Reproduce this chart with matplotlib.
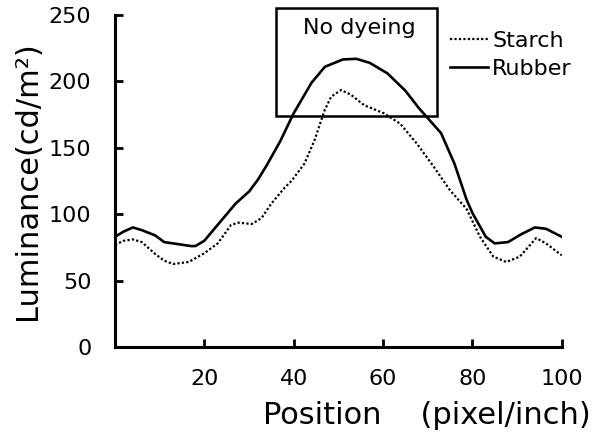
import matplotlib
matplotlib.use("Agg")
import matplotlib.pyplot as plt
from matplotlib.patches import Rectangle

# Data
rubber_x = [0, 2, 4, 6, 9, 11, 13, 15, 17, 18, 20, 23, 25, 27, 30, 32, 34, 37, 40,
            44, 47, 51, 54, 57, 61, 65, 68, 73, 76, 78.7, 80, 83, 85, 88, 91, 94, 96.5, 100]
rubber_y = [83, 87, 90, 88, 84, 79, 78, 77, 76, 76, 80, 92, 100, 108, 117, 126, 137, 155, 176,
            199, 211, 216.5, 217, 214, 206, 193, 180, 161, 138, 111, 101, 83, 78, 79, 85, 90, 89, 83]

starch_x = [0, 2, 4, 6, 9, 11, 13, 16.5, 20, 23, 26, 27.6, 30.6, 32.8, 35, 38, 39.5, 42.4,
            44.7, 46.9, 48.4, 50.6, 52.8, 55.8, 60.2, 63.9, 67.6, 71.3, 75, 78.7, 81.7, 84.7,
            87.6, 90.6, 94.3, 96.5, 100]
starch_y = [77, 80, 81, 79, 70, 65, 62.5, 64, 70.6, 78, 92, 93.6, 92.6, 97, 108, 120, 125, 138,
            156, 178, 188.5, 193.5, 190, 182, 176, 168, 153, 136, 118, 104, 83, 68,
            64, 68, 82, 78, 69]

x_ticks = [20, 40, 60, 80, 100]
y_ticks = [0, 50, 100, 150, 200, 250]

fig = plt.figure(figsize=(5.94, 4.38), dpi=100)
ax = fig.add_axes([0.1936, 0.2078, 0.752, 0.758])

ax.plot(starch_x, starch_y, color="black", lw=1.6, linestyle=(0, (1, 1)), label="Starch")
ax.plot(rubber_x, rubber_y, color="black", lw=1.9, label="Rubber")

ax.set_xlim(0, 100)
ax.set_ylim(0, 250)
ax.set_xticks(x_ticks)
ax.set_yticks(y_ticks)
ax.tick_params(direction="in", length=6, width=2, labelsize=16)
ax.tick_params(axis="y", pad=17)
ax.tick_params(axis="x", pad=16)
for s in ["top", "right"]:
    ax.spines[s].set_visible(False)
for s in ["left", "bottom"]:
    ax.spines[s].set_linewidth(2.2)

# "No dyeing" box
ax.add_patch(Rectangle((36, 174), 36, 81, fill=False, lw=1.8, ec="black", clip_on=False))
ax.text(54.8, 240, "No dyeing", fontsize=16, ha="center", va="center")

ax.legend(loc="upper left", bbox_to_anchor=(450 / 594, 1 - 31 / 438), bbox_transform=fig.transFigure,
          frameon=False, fontsize=16, handlelength=1.7, handletextpad=0.2,
          labelspacing=0.37, borderpad=0, borderaxespad=0)

fig.text(28 / 594, 0.5 + (438 / 2 - 181) / 438, "Luminance(cd/m\u00b2)", rotation=90,
         fontsize=22, ha="center", va="center")
fig.text(427 / 594, 1 - 416 / 438, "Position    (pixel/inch)", fontsize=22, ha="center", va="center")

fig.savefig("out.png", dpi=100)
